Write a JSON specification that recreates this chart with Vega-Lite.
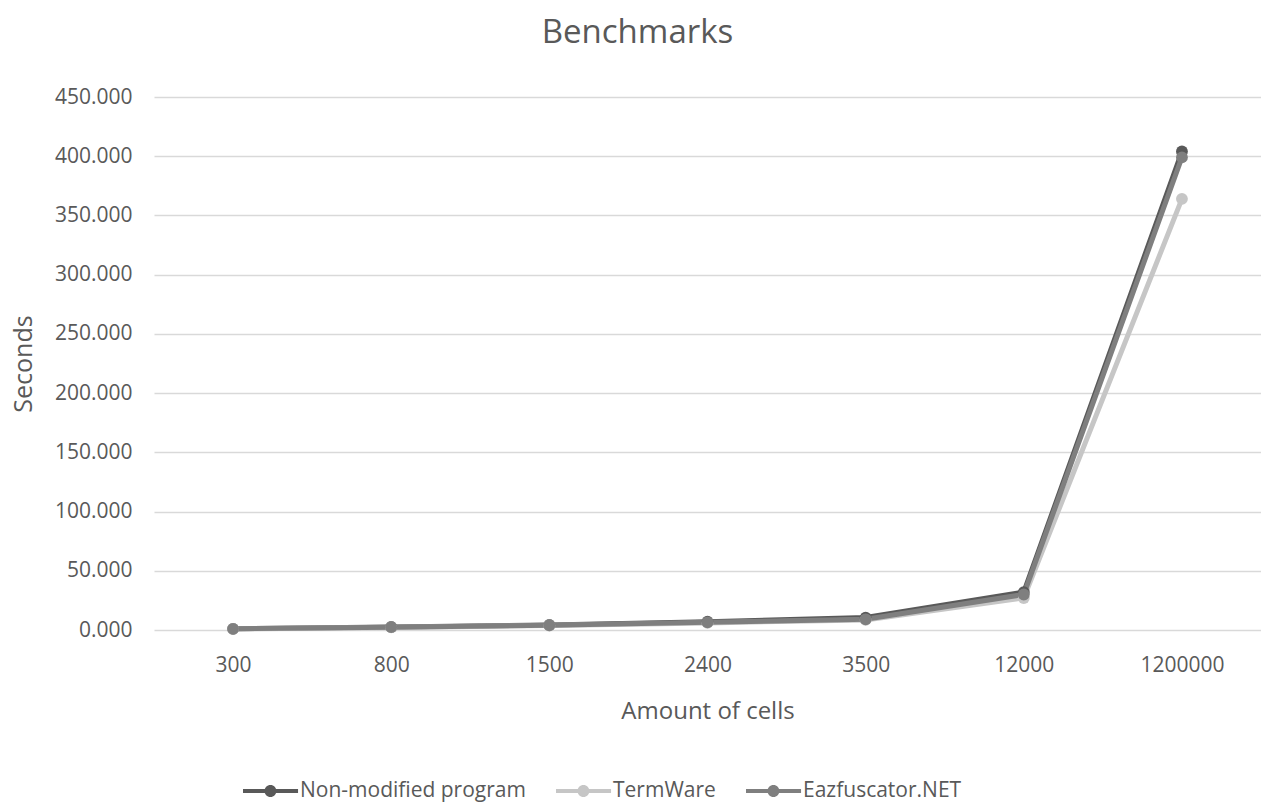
{
  "$schema": "https://vega.github.io/schema/vega-lite/v6.json",
  "autosize": {"type": "none"},
  "padding": {"left": 154, "top": 97, "right": 0, "bottom": 177},
  "width": 1107,
  "height": 533,
  "background": "white",
  "title": {"text": "Benchmarks", "fontSize": 33, "font": "Open Sans", "fontWeight": "normal", "color": "#595959", "anchor": "middle", "dx": -70, "offset": 36},
  "data": {"values": [
    {"cells": "300", "series": "Non-modified program", "seconds": 1.0},
    {"cells": "800", "series": "Non-modified program", "seconds": 2.5},
    {"cells": "1500", "series": "Non-modified program", "seconds": 4.2},
    {"cells": "2400", "series": "Non-modified program", "seconds": 7.0},
    {"cells": "3500", "series": "Non-modified program", "seconds": 10.5},
    {"cells": "12000", "series": "Non-modified program", "seconds": 32},
    {"cells": "1200000", "series": "Non-modified program", "seconds": 404},
    {"cells": "300", "series": "TermWare", "seconds": 0.9},
    {"cells": "800", "series": "TermWare", "seconds": 2.2},
    {"cells": "1500", "series": "TermWare", "seconds": 3.8},
    {"cells": "2400", "series": "TermWare", "seconds": 6.0},
    {"cells": "3500", "series": "TermWare", "seconds": 8.5},
    {"cells": "12000", "series": "TermWare", "seconds": 27},
    {"cells": "1200000", "series": "TermWare", "seconds": 364},
    {"cells": "300", "series": "Eazfuscator.NET", "seconds": 1.0},
    {"cells": "800", "series": "Eazfuscator.NET", "seconds": 2.4},
    {"cells": "1500", "series": "Eazfuscator.NET", "seconds": 4.0},
    {"cells": "2400", "series": "Eazfuscator.NET", "seconds": 6.5},
    {"cells": "3500", "series": "Eazfuscator.NET", "seconds": 9.0},
    {"cells": "12000", "series": "Eazfuscator.NET", "seconds": 30},
    {"cells": "1200000", "series": "Eazfuscator.NET", "seconds": 399}
  ]},
  "encoding": {
    "x": {"field": "cells", "type": "ordinal", "sort": ["300", "800", "1500", "2400", "3500", "12000", "1200000"],
      "scale": {"padding": 0.5},
      "axis": {"title": "Amount of cells", "labelAngle": 0, "ticks": false, "domain": false, "grid": false, "labelPadding": 24, "titlePadding": 24, "labelFontSize": 21, "titleFontSize": 24}},
    "y": {"field": "seconds", "type": "quantitative",
      "scale": {"domain": [0, 450]},
      "axis": {"title": "Seconds", "values": [0, 50, 100, 150, 200, 250, 300, 350, 400, 450], "format": ".3f", "ticks": false, "domain": false, "labelPadding": 22, "titlePadding": 18, "labelFontSize": 21, "titleFontSize": 25}},
    "color": {"field": "series", "type": "nominal",
      "sort": ["Non-modified program", "TermWare", "Eazfuscator.NET"],
      "scale": {"domain": ["Non-modified program", "TermWare", "Eazfuscator.NET"], "range": ["#595959", "#c6c6c6", "#7f7f7f"]},
      "legend": {"title": null, "orient": "none", "direction": "horizontal", "legendX": 89, "legendY": 679,
        "symbolType": "M-1,-0.13 L2.67,-0.13 L2.67,0.13 L-1,0.13 Z M1.23,0 A0.4,0.4 0 1,1 0.43,0 A0.4,0.4 0 1,1 1.23,0 Z",
        "symbolSize": 900, "symbolStrokeWidth": 0, "labelFontSize": 21, "labelLimit": 0, "columnPadding": 30, "symbolOffset": 0, "labelOffset": 27}}
  },
  "layer": [
    {"mark": {"type": "line", "strokeWidth": 5}},
    {"mark": {"type": "point", "filled": true, "size": 140, "opacity": 1}}
  ],
  "config": {
    "font": "Open Sans",
    "view": {"stroke": null},
    "axis": {"labelFont": "Open Sans", "titleFont": "Open Sans", "labelColor": "#595959", "titleColor": "#595959", "titleFontWeight": "normal", "gridColor": "#d9d9d9", "gridWidth": 1.5},
    "legend": {"labelFont": "Open Sans", "labelColor": "#595959"}
  }
}
